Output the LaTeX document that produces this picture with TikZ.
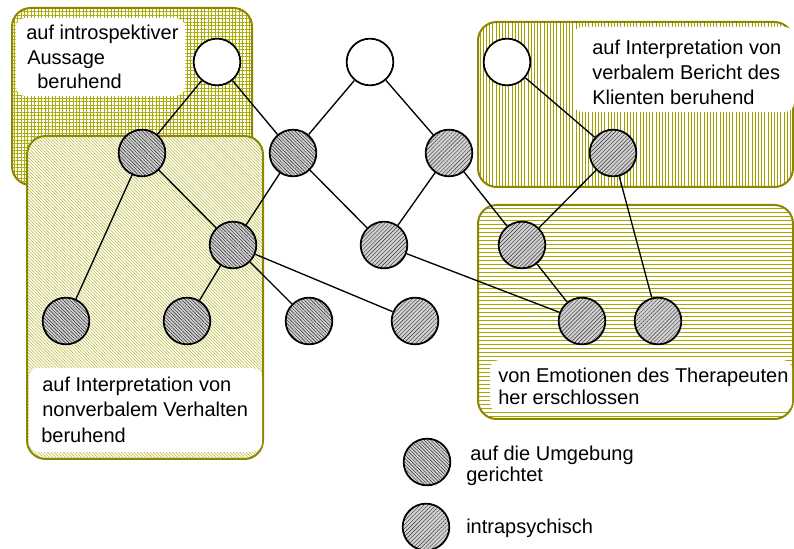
\documentclass[tikz,border=0pt]{standalone}
\usepackage{fontspec}
\setmainfont{Liberation Sans}
\usetikzlibrary{patterns.meta}
\begin{document}
\begin{tikzpicture}[x=0.75pt,y=-0.75pt,
  region/.style={draw=olive, line width=1.5pt, rounded corners=14pt, preaction={fill=white}},
  labelbg/.style={fill=white, rounded corners=7pt},
  lab/.style={anchor=base west, inner sep=0pt, font=\fontsize{15pt}{18pt}\selectfont},
  vertex/.style={circle, draw=black, line width=1.3pt, minimum size=35pt, inner sep=0pt},
  opennode/.style={vertex, fill=white},
  envnode/.style={vertex, preaction={fill=black!18}, pattern color=black!85,
    pattern={Lines[angle=-45,distance=1.8pt,line width=0.35pt]}},
  psynode/.style={vertex, preaction={fill=black!18}, pattern color=black!80,
    pattern={Lines[angle=45,distance=2.1pt,line width=0.32pt]}},
  link/.style={line width=1pt}
]
\useasboundingbox (0,0) rectangle (794,549);

% hatched regions
\draw[region, pattern color=olive!65, pattern={Hatch[angle=0,distance=2.6pt,line width=0.45pt]}] (12,8) rectangle (252,185);
\draw[region, pattern color=olive!55, pattern={Lines[angle=-45,distance=1.7pt,line width=0.4pt]}] (27,136) rectangle (263,459);
\draw[region, pattern color=olive!75, pattern={Lines[angle=90,distance=2.4pt,line width=0.6pt]}] (478,22) rectangle (793,187);
\draw[region, pattern color=olive!70, pattern={Lines[angle=0,distance=3pt,line width=0.75pt]}] (478,205) rectangle (793,419);

% white label panels
\fill[labelbg] (16,18) rectangle (185,96);
\fill[labelbg] (573,27) rectangle (794,112);
\fill[labelbg] (29,368) rectangle (262,452);
\fill[labelbg] (490,360) rectangle (792,412);

% labels
\node[lab] (tl1) at (26,40) {auf introspektiver};
\node[lab] (tl2) at (27,65) {Aussage};
\node[lab] (tl3) at (37,89) {beruhend};
\node[lab] (tr1) at (592,55) {auf Interpretation von};
\node[lab] (tr2) at (592,80) {verbalem Bericht des};
\node[lab] (tr3) at (592,105) {Klienten beruhend};
\node[lab] (ml1) at (42,392) {auf Interpretation von};
\node[lab] (ml2) at (42,417) {nonverbalem Verhalten};
\node[lab] (ml3) at (41,443) {beruhend};
\node[lab] (br1) at (498,383) {von Emotionen des Therapeuten};
\node[lab] (br2) at (498,405) {her erschlossen};

% graph nodes
\node[opennode] (A) at (217,62) {};
\node[opennode] (B) at (370,62) {};
\node[opennode] (C) at (507,62) {};
\node[envnode] (D) at (142,153) {};
\node[envnode] (E) at (293,153) {};
\node[psynode] (F) at (449,153) {};
\node[psynode] (G) at (613,153) {};
\node[envnode] (H) at (233,245) {};
\node[psynode] (I) at (384,245) {};
\node[psynode] (J) at (522,245) {};
\node[envnode] (K) at (66,321) {};
\node[envnode] (L) at (187,321) {};
\node[envnode] (M) at (309,321) {};
\node[psynode] (N) at (415,321) {};
\node[psynode] (O) at (582,321) {};
\node[psynode] (P) at (658,321) {};

% edges
\draw[link] (A) -- (D);
\draw[link] (A) -- (E);
\draw[link] (B) -- (E);
\draw[link] (B) -- (F);
\draw[link] (C) -- (G);
\draw[link] (D) -- (K);
\draw[link] (D) -- (H);
\draw[link] (E) -- (H);
\draw[link] (E) -- (I);
\draw[link] (F) -- (I);
\draw[link] (F) -- (J);
\draw[link] (G) -- (J);
\draw[link] (G) -- (P);
\draw[link] (H) -- (L);
\draw[link] (H) -- (M);
\draw[link] (H) -- (N);
\draw[link] (I) -- (O);
\draw[link] (J) -- (O);

% legend
\node[envnode] (lg1) at (427,462) {};
\node[psynode] (lg2) at (426,527) {};
\node[lab] (lt1) at (470,460) {auf die Umgebung};
\node[lab] (lt2) at (466,482) {gerichtet};
\node[lab] (lt3) at (466,533) {intrapsychisch};
\end{tikzpicture}
\end{document}
